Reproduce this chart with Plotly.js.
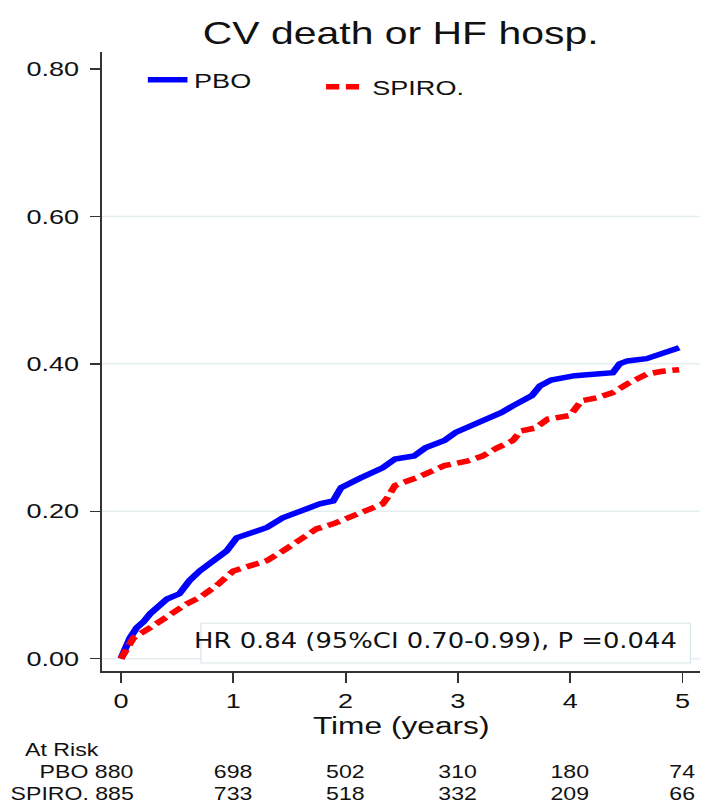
<!DOCTYPE html>
<html>
<head>
<meta charset="utf-8">
<script src="https://cdn.plot.ly/plotly-3.0.1.min.js"></script>
<style>
html,body{margin:0;padding:0;background:#fff;overflow:hidden;}
#chart{width:531px;height:810px;transform:scaleX(1.32015);transform-origin:0 0;}
</style>
</head>
<body>
<div id="chart"></div>
<script>
// Kaplan-Meier style cumulative incidence
const pboTime = [0, 0.05, 0.08, 0.14, 0.20, 0.26, 0.33, 0.41, 0.52, 0.61, 0.70, 0.82, 0.94, 1.03, 1.17, 1.30, 1.44, 1.59, 1.77, 1.89, 1.96, 2.13, 2.33, 2.44, 2.61, 2.71, 2.88, 2.98, 3.12, 3.22, 3.39, 3.49, 3.66, 3.73, 3.83, 4.04, 4.38, 4.44, 4.51, 4.68, 4.82, 4.97];
const pboVal  = [0, 0.018, 0.028, 0.042, 0.050, 0.061, 0.070, 0.081, 0.088, 0.106, 0.119, 0.133, 0.146, 0.164, 0.171, 0.178, 0.191, 0.200, 0.210, 0.214, 0.232, 0.245, 0.259, 0.271, 0.275, 0.286, 0.296, 0.307, 0.316, 0.324, 0.334, 0.343, 0.357, 0.370, 0.378, 0.384, 0.388, 0.400, 0.404, 0.407, 0.414, 0.422];
const spiroTime = [0, 0.04, 0.08, 0.11, 0.26, 0.41, 0.58, 0.70, 0.85, 1.00, 1.15, 1.30, 1.44, 1.59, 1.74, 1.89, 2.07, 2.24, 2.33, 2.37, 2.44, 2.64, 2.88, 3.08, 3.22, 3.35, 3.49, 3.56, 3.69, 3.80, 4.00, 4.10, 4.24, 4.38, 4.51, 4.68, 4.82, 4.97];
const spiroVal  = [0, 0.012, 0.020, 0.028, 0.042, 0.058, 0.074, 0.083, 0.099, 0.119, 0.126, 0.133, 0.146, 0.160, 0.176, 0.183, 0.194, 0.203, 0.210, 0.218, 0.235, 0.246, 0.262, 0.268, 0.275, 0.286, 0.296, 0.309, 0.313, 0.325, 0.330, 0.350, 0.354, 0.361, 0.373, 0.386, 0.390, 0.392];

const seriesNames = ["PBO", "SPIRO."];
const xTickVals = [0, 1, 2, 3, 4, 5];
const yTickVals = [0, 0.2, 0.4, 0.6, 0.8];
const yTickText = ["0.00", "0.20", "0.40", "0.60", "0.80"];
const gridVals = [0, 0.2, 0.4, 0.6];

const riskTimes = [0, 1, 2, 3, 4, 5];
const pboRisk   = [880, 698, 502, 310, 180, 74];
const spiroRisk = [885, 733, 518, 332, 209, 66];

const titleText = "CV death or HF hosp.";
const xTitleText = "Time (years)";
const hrText = "HR 0.84 (95%CI 0.70-0.99), P =0.044";

// The original graph is stretched horizontally; the page draws at W and scales by S.
const S = 1.32015, W = 531, H = 810;
const FONT = "Liberation Sans, Arial, sans-serif";
const INK = "#111111";
const AXIS = "#333333";

// plot area (drawing space): left 77, right 530, top 52, bottom 671
const PL = 77, PR = 530, PT = 52, PB = 671;

// HR note was added on top of the graph without the stretch: pick a narrow face and fit it
function hasFont(name) {
  const c = document.createElement("canvas").getContext("2d");
  c.font = "40px monospace"; const a = c.measureText(hrText).width;
  c.font = "40px '" + name + "', monospace"; const b = c.measureText(hrText).width;
  return Math.abs(a - b) > 1;
}
const hrFamily = hasFont("Liberation Sans Narrow") ? "Liberation Sans Narrow" : (hasFont("DejaVu Sans Condensed") ? "DejaVu Sans Condensed" : "Liberation Sans");
function fitSize(text, family, target) {
  const c = document.createElement("canvas").getContext("2d");
  c.font = "100px '" + family + "'";
  return 100 * target / c.measureText(text).width;
}
const hrSize = Math.min(28, fitSize(hrText, hrFamily, 483 / S));

const traces = [
  {x: pboTime, y: pboVal, name: seriesNames[0], mode: "lines", type: "scatter",
   line: {color: "#0000ff", width: 5.5, shape: "linear"}, legend: "legend"},
  {x: spiroTime, y: spiroVal, name: seriesNames[1], mode: "lines", type: "scatter",
   line: {color: "#ff0000", width: 5.5, dash: "10px,5px", shape: "linear"}, legend: "legend2"}
];

const shapes = gridVals.map(v => ({type: "line", xref: "paper", x0: 0, x1: 1, yref: "y", y0: v, y1: v,
  line: {color: "#e4edf0", width: 1.5}, layer: "below"}));
shapes.push({type: "rect", xref: "x", yref: "y", x0: 0.712, x1: 5.07, y0: -0.006, y1: 0.048,
  line: {color: "#dbe6ea", width: 1}, fillcolor: "rgba(255,255,255,0.92)", layer: "above"});

const annotations = [];
annotations.push({text: hrText, xref: "x", yref: "y", x: 0.632, y: 0.025, xanchor: "left", yanchor: "middle",
  showarrow: false, font: {family: hrFamily, size: hrSize, color: INK}});
annotations.push({text: xTitleText, xref: "paper", yref: "paper", x: 0.5, y: 0, yshift: -54,
  xanchor: "center", yanchor: "middle", showarrow: false, font: {family: FONT, size: 24, color: INK}});
annotations.push({text: "At Risk", xref: "paper", yref: "paper", x: 0, xshift: -60, y: 0, yshift: -79,
  xanchor: "left", yanchor: "middle", showarrow: false, font: {family: FONT, size: 17.5, color: INK}});
const rows = [[seriesNames[0], pboRisk, -101], [seriesNames[1], spiroRisk, -123]];
rows.forEach(([label, vals, dy]) => {
  riskTimes.forEach((t, i) => {
    if (i === 0) {
      annotations.push({text: label + " " + vals[i], xref: "x", yref: "paper", x: t, xshift: 11, y: 0, yshift: dy,
        xanchor: "right", yanchor: "middle", showarrow: false, font: {family: FONT, size: 17.5, color: INK}});
    } else {
      annotations.push({text: String(vals[i]), xref: "x", yref: "paper", x: t, y: 0, yshift: dy,
        xanchor: "center", yanchor: "middle", showarrow: false, font: {family: FONT, size: 17.5, color: INK}});
    }
  });
});

const PW = PR - PL, PH = PB - PT;
const layout = {
  width: W, height: H,
  margin: {l: PL, r: W - PR, t: PT, b: H - PB, pad: 0, autoexpand: false},
  paper_bgcolor: "#ffffff", plot_bgcolor: "#ffffff",
  font: {family: FONT, color: INK},
  title: {text: titleText, font: {family: FONT, size: 31, color: INK},
          x: 0.5, xref: "paper", xanchor: "center", y: 1 - 33/H, yref: "container", yanchor: "middle"},
  xaxis: {range: [-0.172, 5.153], tickvals: xTickVals, ticks: "outside", ticklen: 10, tickwidth: 1.5,
          tickcolor: AXIS, showline: true, linecolor: AXIS, linewidth: 1.5, showgrid: false, zeroline: false,
          tickfont: {family: FONT, size: 20.5, color: INK}, ticklabelstandoff: 1, fixedrange: true, automargin: false},
  yaxis: {range: [-0.0167, 0.8231], tickvals: yTickVals, ticktext: yTickText, ticks: "outside", ticklen: 7.5,
          tickwidth: 1.5, tickcolor: AXIS, showline: true, linecolor: AXIS, linewidth: 1.5, showgrid: false,
          zeroline: false, tickfont: {family: FONT, size: 20.5, color: INK}, ticklabelstandoff: 4,
          fixedrange: true, automargin: false},
  legend: {xref: "paper", yref: "paper", x: (107 - PL)/PW, y: (PB - 80)/PH, xanchor: "left", yanchor: "middle",
           bgcolor: "rgba(0,0,0,0)", font: {family: FONT, size: 20.5, color: INK}},
  legend2: {xref: "paper", yref: "paper", x: (242 - PL)/PW, y: (PB - 87)/PH, xanchor: "left", yanchor: "middle",
           bgcolor: "rgba(0,0,0,0)", font: {family: FONT, size: 20.5, color: INK}},
  showlegend: true,
  shapes: shapes,
  annotations: annotations
};

Plotly.newPlot("chart", traces, layout, {displayModeBar: false, staticPlot: true});
</script>
</body>
</html>
